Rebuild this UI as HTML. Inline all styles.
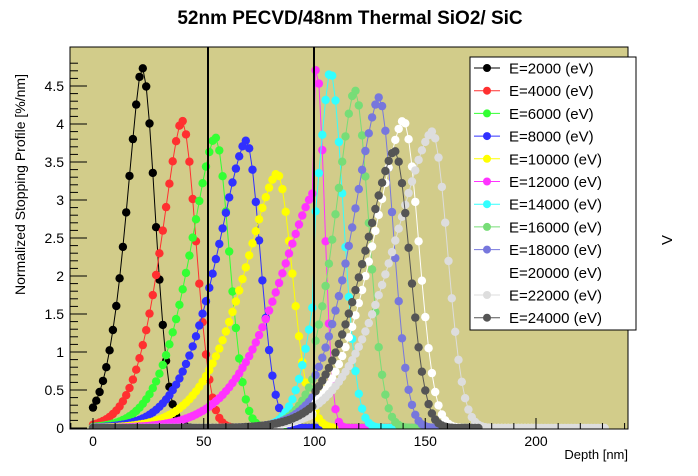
<!DOCTYPE html>
<html><head><meta charset="utf-8"><style>
body{margin:0;background:#fff;}
svg{display:block;font-family:"Liberation Sans",sans-serif;}
</style></head><body>
<svg id="s" width="698" height="476" xmlns="http://www.w3.org/2000/svg">
<defs><clipPath id="c"><rect x="70" y="47" width="558" height="382"/></clipPath></defs>
<rect x="70" y="47" width="558" height="382" fill="#d2cc8a"/>
<g id="data" clip-path="url(#c)"></g>
<line x1="208" y1="47" x2="208" y2="429" stroke="#000" stroke-width="2"/>
<line x1="314" y1="47" x2="314" y2="429" stroke="#000" stroke-width="2"/>
<rect x="70" y="47" width="558" height="382" fill="none" stroke="#000" stroke-width="1"/>
<g id="ax" stroke="#000" stroke-width="1"></g>
<g id="lab" font-size="14" fill="#000"></g>
<text x="350" y="24" font-size="19" font-weight="bold" text-anchor="middle">52nm PECVD/48nm Thermal SiO2/ SiC</text>
<text transform="translate(25,295) rotate(-90)" font-size="14">Normalized Stopping Profile [%/nm]</text>
<text x="628" y="459" font-size="13" text-anchor="end">Depth [nm]</text>
<text transform="translate(672,240) rotate(-90)" font-size="15" text-anchor="middle">V</text>
<g id="leg"></g>
</svg>
<script>
var X=function(d){return 93+d*2.215;}, Y=function(v){return 428-v*76;};
var ax=document.getElementById('ax'),lab=document.getElementById('lab'),ns='http://www.w3.org/2000/svg';
function el(p,t,a,txt){var e=document.createElementNS(ns,t);for(var k in a)e.setAttribute(k,a[k]);if(txt!==undefined)e.textContent=txt;p.appendChild(e);return e;}
for(var i=0;i<=48;i++){var v=i*0.1;var y=Y(v);if(y<47)break;var maj=(i%5==0);
el(ax,'line',{x1:70,y1:y,x2:70+(maj?17:8),y2:y});
if(maj)el(lab,'text',{x:64,y:y+5,'text-anchor':'end'},(Math.round(v*10)/10).toString());}
for(var d=-10;d<=240;d+=10){var x=X(d);if(x<70||x>628)continue;var maj=(d%50==0);
el(ax,'line',{x1:x,y1:429,x2:x,y2:429-(maj?11:6)});
if(maj)el(lab,'text',{x:x,y:446,'text-anchor':'middle'},d.toString());}
// color, peak x, peak height, end x, left scale (x units, null=auto), right sigma
var S=[
['#000000',22,4.75,175,null,6],['#ff3030',40,4.05,175,null,6.5],['#33ff33',55,3.83,175,null,6.5],['#3030ff',69,3.78,175,null,6.5],
['#ffff00',83,3.35,175,null,7],['#ff33ff',101,4.72,175,17,3.5],['#33ffff',107,4.7,175,6.5,6],['#77dd77',118,4.45,175,9,6.5],
['#7777dd',129,4.35,175,12,6.5],['#ffffff',140,4.05,200,13.5,7],['#dddddd',153,3.9,232,17.5,7],['#555555',136,3.65,175,14,7]];
var names=[2000,4000,6000,8000,10000,12000,14000,16000,18000,20000,22000,24000];
var j=1.5,g=document.getElementById('data');
S.forEach(function(s){var px=s[1];var A=px>100?s[2]/j:s[2];var sl=s[4]||(0.13*px+4),sr=s[5];
var pts=[];for(var x=0;x<=s[3];x+=1.5){var v;
if(x<px){var z=(px-x)/sl;v=A*Math.exp(-Math.pow(z,1.5)/2);}else{var z=(x-px)/sr;v=A*Math.exp(-z*z/2);}
v*=(x>100?j:1);pts.push([X(x),Y(v)]);}
el(g,'polyline',{points:pts.map(function(p){return p[0].toFixed(1)+','+p[1].toFixed(1)}).join(' '),fill:'none',stroke:s[0],'stroke-width':1});
pts.forEach(function(p){el(g,'circle',{cx:p[0].toFixed(1),cy:p[1].toFixed(1),r:4.2,fill:s[0]});});});
var L=document.getElementById('leg');
el(L,'rect',{x:470,y:57,width:166,height:273,fill:'#fff',stroke:'#000'});
S.forEach(function(s,i){var y=68+i*22.7;
el(L,'line',{x1:474,y1:y,x2:500,y2:y,stroke:s[0]});
el(L,'circle',{cx:487,cy:y,r:4,fill:s[0]});
el(L,'text',{x:509,y:y+5.5,'font-size':15},'E='+names[i]+' (eV)');});
</script>
</body></html>
